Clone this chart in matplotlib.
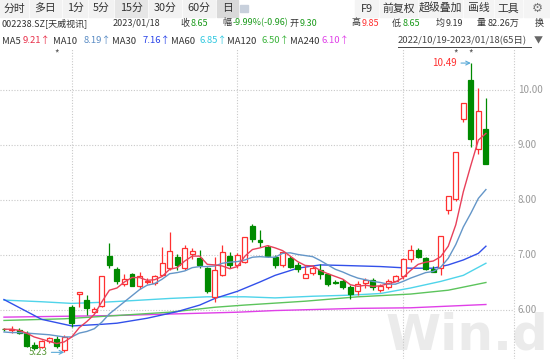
import numpy as np
import matplotlib
matplotlib.use("Agg")
import matplotlib.pyplot as plt
from matplotlib.patches import Rectangle
from matplotlib.transforms import blended_transform_factory

plt.rcParams['font.family'] = ['Noto Sans CJK SC', 'DejaVu Sans']

# daily OHLC, 2022/10/19 - 2023/01/18 (65 days)
opens = [5.66, 5.64, 5.64, 5.59, 5.36, 5.33, 5.43, 5.47, 5.27, 6.06,
         6.29, 6.18, 5.97, 6.07, 6.98, 6.74, 6.47, 6.65, 6.43, 6.51,
         6.49, 6.64, 6.76, 6.97, 6.76, 7.01, 6.94, 6.76, 6.24, 6.64,
         6.99, 6.82, 6.88, 7.53, 7.27, 7.15, 6.97, 6.81, 6.95, 6.82,
         6.59, 6.67, 6.73, 6.65, 6.51, 6.52, 6.42, 6.35, 6.49, 6.55,
         6.36, 6.42, 6.53, 6.62, 6.92, 7.09, 6.95, 6.74, 6.76, 7.82,
         8.01, 9.47, 10.18, 8.93, 9.30]
highs = [5.68, 5.70, 5.67, 5.62, 5.41, 5.46, 5.51, 5.52, 5.54, 6.09,
         6.33, 6.27, 6.05, 6.61, 7.21, 6.78, 6.65, 6.67, 6.69, 6.58,
         6.64, 7.15, 7.41, 7.01, 7.18, 7.12, 7.10, 6.78, 6.97, 7.19,
         7.06, 7.03, 7.33, 7.56, 7.45, 7.18, 7.00, 7.08, 6.99, 6.88,
         6.80, 6.82, 6.83, 6.68, 6.55, 6.56, 6.46, 6.53, 6.58, 6.58,
         6.47, 6.56, 6.64, 6.95, 7.19, 7.12, 6.97, 6.80, 7.34, 8.07,
         8.88, 9.77, 10.49, 10.03, 9.85]
lows = [5.62, 5.59, 5.56, 5.33, 5.28, 5.31, 5.40, 5.30, 5.23, 5.69,
        6.05, 5.91, 5.94, 6.05, 6.76, 6.48, 6.44, 6.43, 6.38, 6.47,
        6.45, 6.61, 6.73, 6.73, 6.73, 6.93, 6.76, 6.31, 6.15, 6.61,
        6.76, 6.76, 6.85, 7.24, 7.15, 6.96, 6.76, 6.78, 6.77, 6.70,
        6.58, 6.64, 6.56, 6.43, 6.47, 6.39, 6.20, 6.27, 6.40, 6.37,
        6.33, 6.38, 6.52, 6.57, 6.88, 6.94, 6.73, 6.69, 6.64, 7.74,
        7.98, 9.42, 8.97, 8.83, 8.65]
closes = [5.65, 5.65, 5.58, 5.35, 5.31, 5.44, 5.49, 5.35, 5.50, 5.76,
          6.32, 6.03, 6.01, 6.61, 6.82, 6.53, 6.56, 6.44, 6.62, 6.53,
          6.61, 6.85, 7.07, 6.81, 7.12, 7.07, 6.82, 6.35, 6.73, 7.05,
          6.81, 7.00, 7.33, 7.29, 7.23, 6.99, 6.81, 7.06, 6.79, 6.75,
          6.65, 6.76, 6.65, 6.47, 6.50, 6.41, 6.29, 6.48, 6.55, 6.42,
          6.44, 6.52, 6.62, 6.93, 7.09, 6.97, 6.75, 6.69, 7.34, 8.07,
          8.88, 9.77, 9.11, 9.61, 8.65]

ma5 = [5.65, 5.65, 5.63, 5.58, 5.51, 5.47, 5.43, 5.39, 5.42, 5.51,
       5.68, 5.79, 5.92, 6.15, 6.36, 6.40, 6.51, 6.59, 6.59, 6.54,
       6.55, 6.61, 6.74, 6.77, 6.89, 6.98, 6.98, 6.83, 6.82, 6.80,
       6.75, 6.79, 6.98, 7.10, 7.13, 7.17, 7.13, 7.08, 6.98, 6.88,
       6.81, 6.80, 6.72, 6.66, 6.61, 6.56, 6.46, 6.43, 6.45, 6.43,
       6.44, 6.48, 6.51, 6.59, 6.72, 6.83, 6.87, 6.89, 6.97, 7.16,
       7.55, 8.15, 8.63, 9.09, 9.21]
ma10 = [5.60, 5.59, 5.59, 5.58, 5.57, 5.56, 5.55, 5.53, 5.51, 5.51,
        5.58, 5.61, 5.66, 5.78, 5.93, 6.04, 6.15, 6.26, 6.37, 6.45,
        6.48, 6.56, 6.66, 6.68, 6.71, 6.77, 6.79, 6.79, 6.80, 6.85,
        6.87, 6.88, 6.91, 6.96, 6.97, 6.96, 6.96, 7.03, 7.04, 7.01,
        6.99, 6.97, 6.90, 6.82, 6.74, 6.69, 6.63, 6.58, 6.55, 6.52,
        6.50, 6.47, 6.47, 6.52, 6.58, 6.63, 6.68, 6.70, 6.78, 6.94,
        7.19, 7.51, 7.76, 8.03, 8.19]
ma30_idx = [0, 5, 9, 13, 15, 19, 23, 26, 28, 31, 34, 36, 39, 42, 45, 50, 54, 57, 59, 61, 63, 64]
ma30 = [6.19, 5.83, 5.71, 5.74, 5.76, 5.85, 5.97, 6.09, 6.21, 6.34, 6.51,
        6.63, 6.76, 6.82, 6.81, 6.79, 6.76, 6.76, 6.82, 6.91, 7.03, 7.16]
ma60_idx = [0, 5, 9, 13, 17, 22, 27, 32, 36, 41, 46, 50, 54, 58, 61, 64]
ma60 = [6.18, 6.15, 6.12, 6.14, 6.17, 6.21, 6.24, 6.24, 6.22, 6.25, 6.27,
        6.30, 6.40, 6.52, 6.63, 6.85]
ma120_idx = [0, 8, 15, 22, 28, 32, 40, 47, 54, 59, 64]
ma120 = [5.81, 5.84, 5.90, 5.96, 6.05, 6.09, 6.16, 6.24, 6.29, 6.36, 6.50]
ma240_idx = [0, 15, 31, 36, 47, 54, 64]
ma240 = [5.87, 5.90, 5.96, 5.99, 6.03, 6.04, 6.10]

month_idx = [9, 31, 53]
price_ticks = [6, 7, 8, 9, 10]
star_idx = [7, 60, 62]

RED = '#ff3030'
GREEN = '#008a00'
GRID = '#c9c9c9'

fig = plt.figure(figsize=(5.5, 3.59), dpi=100)
W, H = 550.0, 359.0
ax = fig.add_axes([0, 0, 514 / W, (H - 48) / H])
ax.set_xlim(-0.53, 67.73)
ax.set_ylim(5.109, 10.764)
ax.axis('off')

# grid
for p in price_ticks:
    ax.axhline(p, color=GRID, lw=0.8, ls=(0, (1, 1.5)), zorder=1)
for m in month_idx:
    ax.axvline(m, color=GRID, lw=0.8, ls=(0, (1, 1.5)), zorder=1)
ax.plot([1, 1], [0, 1], transform=ax.transAxes, color=GRID, lw=0.8,
        ls=(0, (1, 1.5)), clip_on=False)

# watermark
ax.text(386 / W, 9 / H, 'Win.d', transform=fig.transFigure, fontsize=36,
        family='DejaVu Sans', weight='bold', color='#ebebeb', zorder=0,
        clip_on=False, va='baseline', ha='left')

# candles
o = np.array(opens); h = np.array(highs); l = np.array(lows); c = np.array(closes)
x = np.arange(len(o))
up = c >= o
top = np.maximum(o, c)
bot = np.minimum(o, c)
ecol = np.where(up, RED, GREEN)
fcol = np.where(up, 'white', GREEN)
ax.vlines(x, top, h, colors=ecol, lw=0.9, zorder=3)
ax.vlines(x, l, bot, colors=ecol, lw=0.9, zorder=3)
ax.bar(x, np.maximum(top - bot, 0.006), bottom=bot, width=0.66,
       color=fcol, edgecolor=ecol, linewidth=0.9, zorder=4)

# moving averages
ax.plot(ma240_idx, ma240, color='#e040e8', lw=1.0, zorder=2)
ax.plot(ma120_idx, ma120, color='#5cc45c', lw=1.0, zorder=2)
ax.plot(ma60_idx, ma60, color='#4fd4ea', lw=1.0, zorder=2)
ax.plot(ma30_idx, ma30, color='#3250ea', lw=1.0, zorder=2)
ax.plot(x, ma10, color='#6496c8', lw=1.0, zorder=5)
ax.plot(x, ma5, color='#e8405a', lw=1.0, zorder=5)

# high / low markers
ax.annotate('10.49', xy=(62, 10.49), xytext=(-14, 0), textcoords='offset pixels',
            ha='right', va='center', color=RED, fontsize=7,
            arrowprops=dict(arrowstyle='->', color='#5aaad8', lw=0.8,
                            shrinkA=1, shrinkB=0))
ax.annotate('5.23', xy=(8, 5.23), xytext=(-17, 0), textcoords='offset pixels',
            ha='right', va='center', color='#5a9a3a', fontsize=7,
            arrowprops=dict(arrowstyle='->', color='#5aaad8', lw=0.8,
                            shrinkA=1, shrinkB=0))

# event stars
star_tr = blended_transform_factory(ax.transData, fig.transFigure)
for s in star_idx:
    ax.text(s, 1 - 54 / H, '*', transform=star_tr, ha='center', va='center',
            fontsize=7, color='#555555', clip_on=False)

# right axis labels
for p in price_ticks:
    ax.text(518 / W, p, f'{p:.2f}', transform=blended_transform_factory(fig.transFigure, ax.transData),
            ha='left', va='center', fontsize=7, color='#9a9a9a')

# toolbar
left_btns = [(0, 28, '分时', '#f2f2f2'), (30, 61, '多日', '#f2f2f2'),
             (63, 87, '1分', '#f2f2f2'), (89, 113, '5分', '#f2f2f2'),
             (115, 147, '15分', '#e6e6e6'), (149, 181, '30分', '#f2f2f2'),
             (183, 215, '60分', '#f2f2f2'), (217, 238, '日', '#d9d9d9')]
right_btns = [(355, 378, 'F9'), (380, 417, '前复权'), (419, 462, '超级叠加'),
              (464, 493, '画线'), (495, 522, '工具'), (524, 550, '⚙')]
for a, b, t, bg in left_btns:
    fig.patches.append(Rectangle((a / W, 1 - 17 / H), (b - a) / W, 17 / H,
                                 transform=fig.transFigure, color=bg, zorder=0))
    fig.text((a + b) / 2 / W, 1 - 8.5 / H, t, ha='center', va='center',
             fontsize=7.8, color='#333333')
fig.patches.append(Rectangle((240 / W, 1 - 12 / H), 8 / W, 7 / H,
                             transform=fig.transFigure, color='#c8d0dc', zorder=0))
for a, b, t in right_btns:
    fig.patches.append(Rectangle((a / W, 1 - 17 / H), (b - a) / W, 17 / H,
                                 transform=fig.transFigure, color='#f4f4f4', zorder=0))
    fig.text((a + b) / 2 / W, 1 - 8.5 / H, t, ha='center', va='center',
             fontsize=7.8 if t != '⚙' else 9, color='#333333' if t != '⚙' else '#777777')

# quote line
DARK = '#333333'
QG = '#1a9a1a'
quote = [(2, '002238.SZ[天威视讯]', DARK), (113, '2023/01/18', DARK),
         (180, '收', DARK), (191, '8.65', QG),
         (222, '幅', DARK), (233, '-9.99%(-0.96)', QG),
         (290, '开', DARK), (300, '9.30', QG),
         (352, '高', DARK), (362, '9.85', RED),
         (392, '低', DARK), (403, '8.65', QG),
         (436, '均', DARK), (446, '9.19', DARK),
         (477, '量', DARK), (488, '82.26万', DARK),
         (535, '换', DARK)]
for px, t, col in quote:
    fig.text(px / W, 1 - 23 / H, t, ha='left', va='center', fontsize=6.5, color=col)

# MA legend line
ma_legend = [(2, 'MA5', DARK), (23, '9.21↑', '#e8304a'),
             (53, 'MA10', DARK), (84, '8.19↑', '#5a8cc4'),
             (112, 'MA30', DARK), (143, '7.16↑', '#2a44e8'),
             (171, 'MA60', DARK), (200, '6.85↑', '#30c8e0'),
             (227, 'MA120', DARK), (261, '6.50↑', '#3cb43c'),
             (290, 'MA240', DARK), (321, '6.10↑', '#e040e8')]
for px, t, col in ma_legend:
    fig.text(px / W, 1 - 41 / H, t, ha='left', va='center', fontsize=6.8, color=col)
fig.text(398 / W, 1 - 41 / H, '2022/10/19-2023/01/18(65日)', ha='left', va='center',
         fontsize=6.8, color='#444444')
fig.add_artist(plt.Line2D([398 / W, 531 / W], [1 - 47 / H, 1 - 47 / H],
                          color='#444444', lw=0.7))
fig.text(538 / W, 1 - 41 / H, '▼', ha='center', va='center', fontsize=6.5, color='#666666')

fig.savefig('out.png', dpi=100)
